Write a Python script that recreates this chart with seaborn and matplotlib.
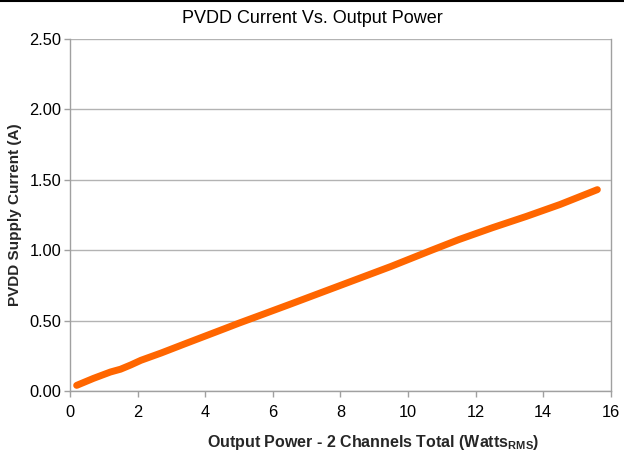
import matplotlib
matplotlib.use("Agg")
import matplotlib.pyplot as plt
import seaborn as sns
import pandas as pd
from matplotlib.lines import Line2D

# Data
output_power = [0.2, 0.7, 1.2, 1.5, 1.8, 2.1, 2.7, 3.4, 4.0, 4.6, 5.0, 5.6, 6.5,
                7.5, 8.5, 9.5, 10.7, 11.5, 12.5, 13.5, 14.5, 15.6]
pvdd_current = [0.04, 0.09, 0.135, 0.155, 0.185, 0.218, 0.27, 0.335, 0.39, 0.445,
                0.482, 0.535, 0.615, 0.705, 0.795, 0.885, 1.0, 1.075, 1.16, 1.24,
                1.325, 1.43]
x_ticks = [0, 2, 4, 6, 8, 10, 12, 14, 16]
y_ticks = [0.0, 0.5, 1.0, 1.5, 2.0, 2.5]
y_tick_labels = ["0.00", "0.50", "1.00", "1.50", "2.00", "2.50"]

title = "PVDD Current Vs. Output Power"
xlabel = r"Output Power - 2 Channels Total (Watts$_\mathbf{RMS}$)"
ylabel = "PVDD Supply Current (A)"

sns.set_theme(style="white")
plt.rcParams["font.family"] = ["Liberation Sans", "DejaVu Sans"]
plt.rcParams["mathtext.fontset"] = "custom"
plt.rcParams["mathtext.rm"] = "Liberation Sans"
plt.rcParams["mathtext.bf"] = "Liberation Sans:bold"

df = pd.DataFrame({"power": output_power, "current": pvdd_current})

fig = plt.figure(figsize=(6.24, 4.57), dpi=100)
ax = fig.add_axes([0.112, 0.1444, 0.867, 0.7703])

sns.lineplot(data=df, x="power", y="current", ax=ax, color="#FF6600",
             linewidth=5.0, solid_capstyle="round", solid_joinstyle="round")

ax.set_xlim(0, 16)
ax.set_ylim(0, 2.5)
ax.set_xticks(x_ticks)
ax.set_xticklabels([str(t) for t in x_ticks])
ax.set_yticks(y_ticks)
ax.set_yticklabels(y_tick_labels)

ax.yaxis.grid(True, color="#b3b3b3", linewidth=1.0)
ax.xaxis.grid(False)
ax.set_axisbelow(True)

for side in ["left", "bottom", "right"]:
    ax.spines[side].set_visible(True)
    ax.spines[side].set_color("#a0a0a0")
    ax.spines[side].set_linewidth(1.0)
ax.spines["top"].set_visible(False)

ax.tick_params(axis="both", which="major", direction="out", length=4,
               width=1.0, color="#a0a0a0", labelsize=11.8, labelcolor="black")
ax.tick_params(axis="y", pad=2, left=True)
ax.tick_params(axis="x", pad=6, bottom=True)

fig.text(0.5, 0.96, title, fontsize=13, color="black", ha="center", va="center")
ax.set_xlabel(xlabel, fontsize=11.5, fontweight="bold")
ax.xaxis.set_label_coords(0.56, -0.12)
ax.set_ylabel(ylabel, fontsize=11, fontweight="bold")
ax.yaxis.set_label_coords(-0.088, 0.5)

fig.add_artist(Line2D([0, 1], [0.998, 0.998], color="black", linewidth=1.5,
                      transform=fig.transFigure))

fig.savefig("out.png", dpi=100, facecolor="white")
